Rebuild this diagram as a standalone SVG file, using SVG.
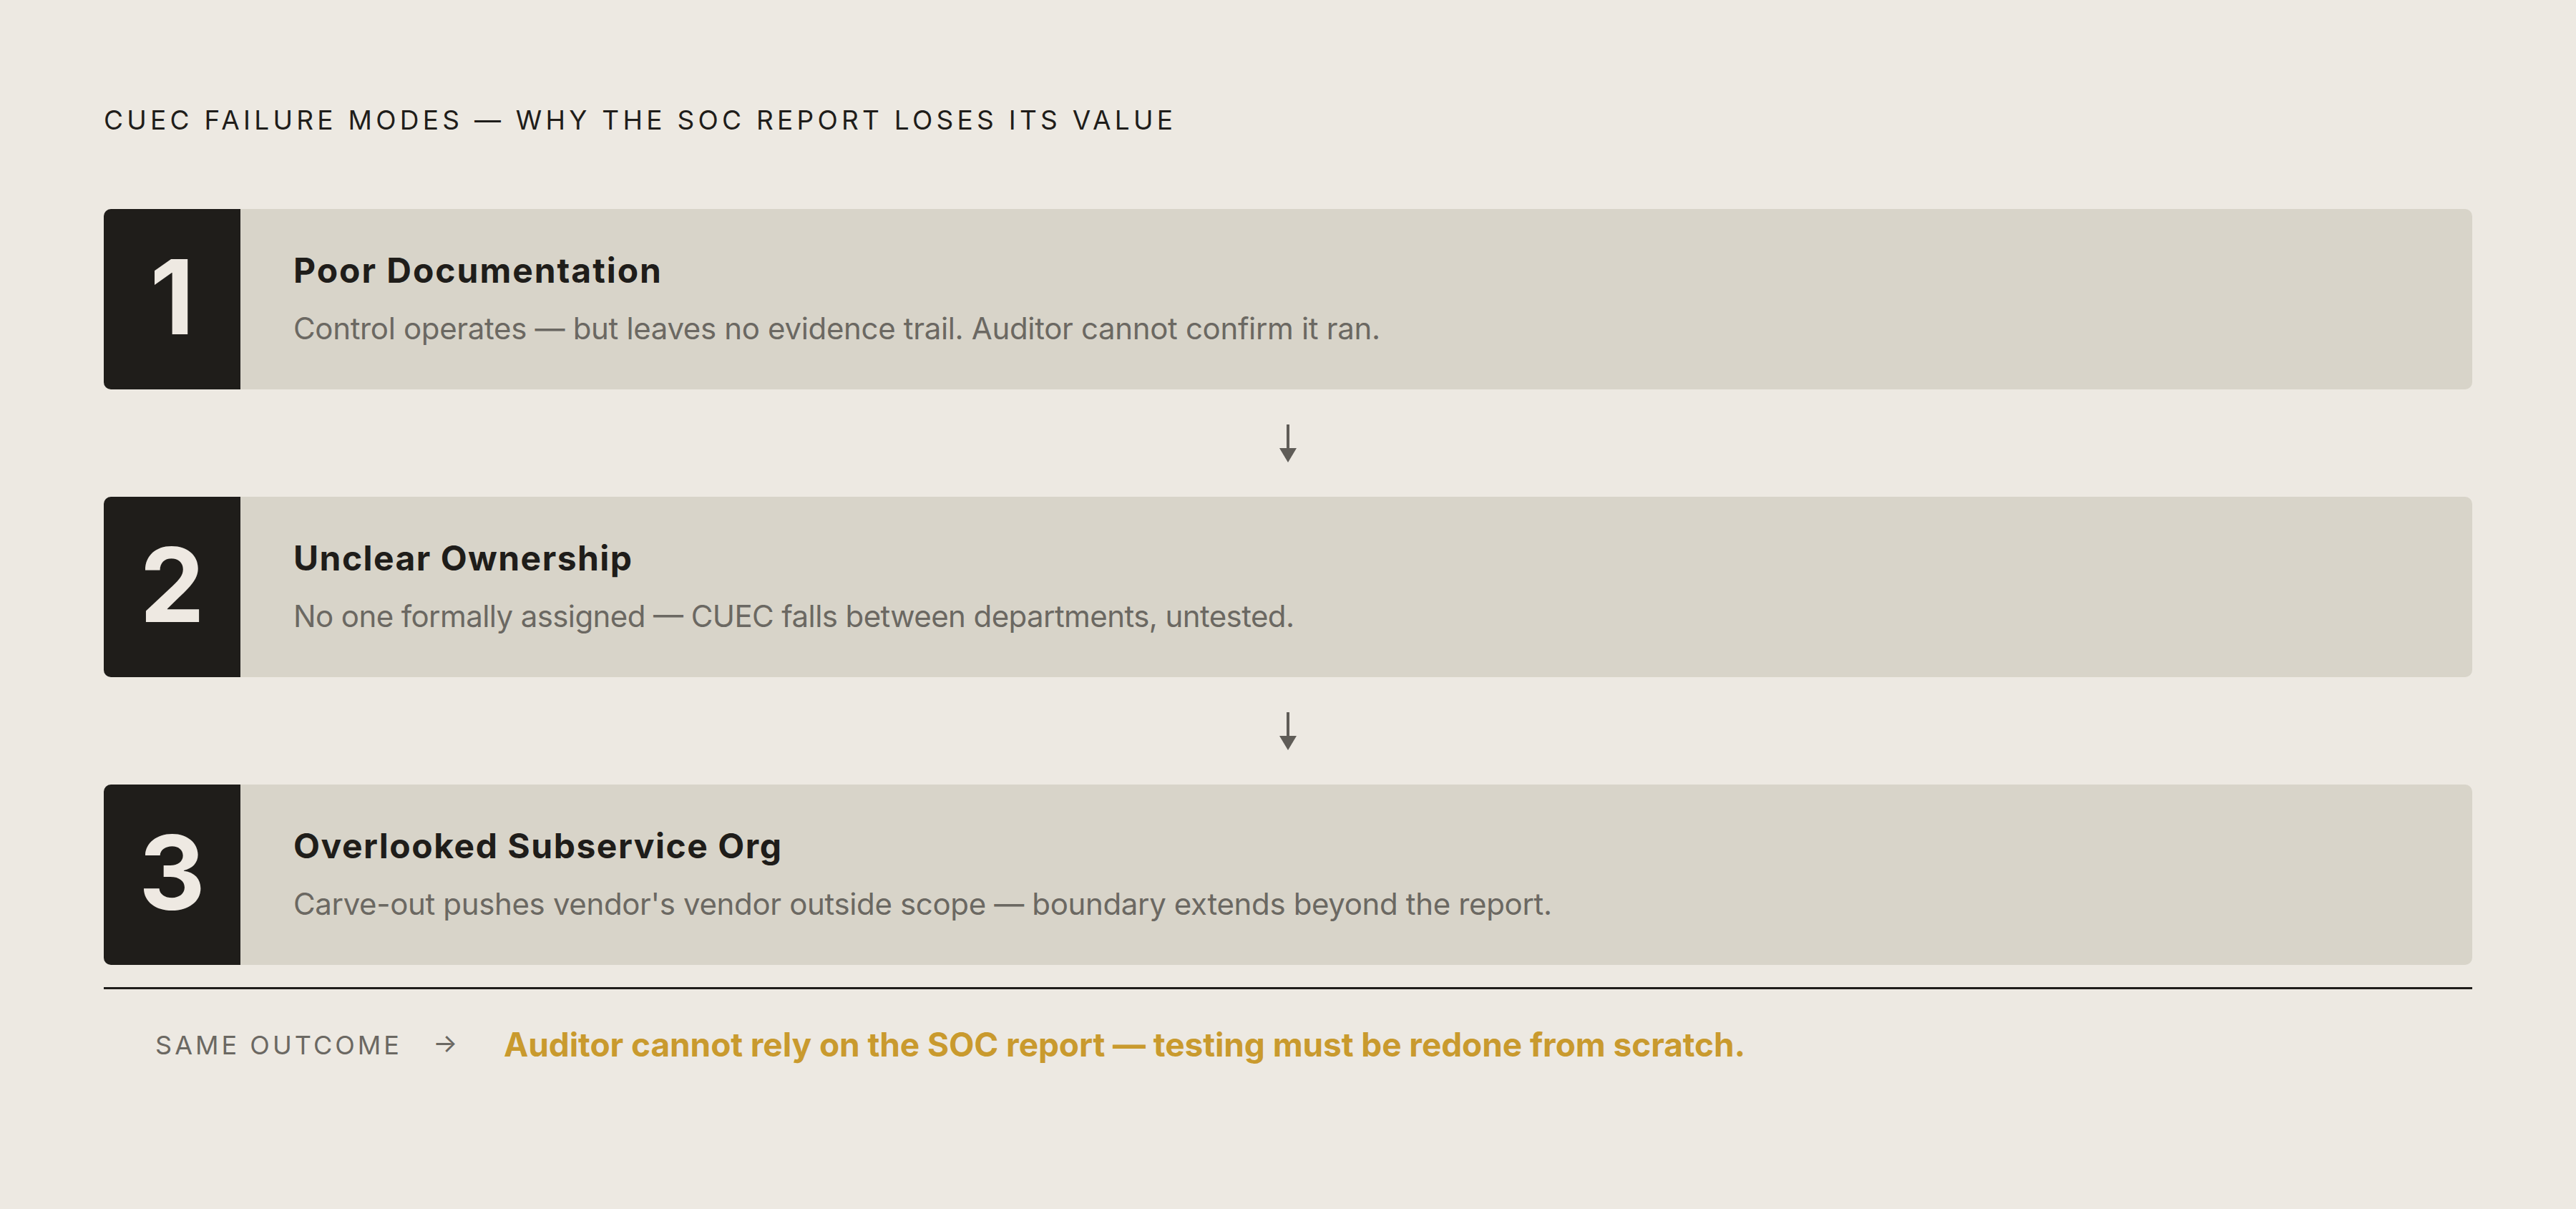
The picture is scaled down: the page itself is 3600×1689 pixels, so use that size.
<svg xmlns="http://www.w3.org/2000/svg" width="3600" height="1689" viewBox="0 0 3600 1689">
  <style>
    text { font-family: "Inter", "Liberation Sans", sans-serif; }
    .title { font-size: 37px; fill: #1f1d1a; font-weight: 400; }
    .card { fill: #d8d4c9; }
    .badge { fill: #1f1d1a; }
    .num { font-size: 144px; font-weight: 700; fill: #eee9e2; text-anchor: middle; }
    .head { font-size: 48px; font-weight: 700; fill: #1f1d1a; }
    .body { font-size: 42px; font-weight: 400; fill: #6b6862; }
    .label { font-size: 36px; font-weight: 400; fill: #6b6862; }
    .gold { font-size: 46px; font-weight: 700; fill: #c99a2e; }
    .conn { stroke: #5f5c57; stroke-width: 4; fill: none; }
  </style>
  <defs>
    <marker id="arrow" markerUnits="userSpaceOnUse" markerWidth="20" markerHeight="24" refX="0" refY="12" orient="auto" viewBox="0 0 20 24">
      <path d="M0,0 L20,12 L0,24 Z" fill="#5f5c57"/>
    </marker>
  </defs>
  <rect width="3600" height="1689" fill="#ede9e2"/>

  <text class="title" x="145" y="181" textLength="1500" lengthAdjust="spacing" letter-spacing="6">CUEC FAILURE MODES — WHY THE SOC REPORT LOSES ITS VALUE</text>

  <g id="node1">
    <rect class="card" x="145" y="292" width="3310" height="252" rx="10"/>
    <path class="badge" d="M155,292 H336 V544 H155 A10,10 0 0 1 145,534 V302 A10,10 0 0 1 155,292 Z"/>
    <text class="num" x="240.5" y="467">1</text>
    <text class="head" x="410" y="395" textLength="514" lengthAdjust="spacing">Poor Documentation</text>
    <text class="body" x="410" y="474" textLength="1519" lengthAdjust="spacing">Control operates — but leaves no evidence trail. Auditor cannot confirm it ran.</text>
  </g>

  <g id="node2">
    <rect class="card" x="145" y="694" width="3310" height="252" rx="10"/>
    <path class="badge" d="M155,694 H336 V946 H155 A10,10 0 0 1 145,936 V704 A10,10 0 0 1 155,694 Z"/>
    <text class="num" x="240.5" y="869">2</text>
    <text class="head" x="410" y="797" textLength="473" lengthAdjust="spacing">Unclear Ownership</text>
    <text class="body" x="410" y="876" textLength="1399" lengthAdjust="spacing">No one formally assigned — CUEC falls between departments, untested.</text>
  </g>

  <g id="node3">
    <rect class="card" x="145" y="1096" width="3310" height="252" rx="10"/>
    <path class="badge" d="M155,1096 H336 V1348 H155 A10,10 0 0 1 145,1338 V1106 A10,10 0 0 1 155,1096 Z"/>
    <text class="num" x="240.5" y="1271">3</text>
    <text class="head" x="410" y="1199" textLength="682" lengthAdjust="spacing">Overlooked Subservice Org</text>
    <text class="body" x="410" y="1278" textLength="1759" lengthAdjust="spacing">Carve-out pushes vendor's vendor outside scope — boundary extends beyond the report.</text>
  </g>

  <g id="connectors">
    <line class="conn" x1="1800" y1="593" x2="1800" y2="626" marker-end="url(#arrow)"/>
    <line class="conn" x1="1800" y1="995" x2="1800" y2="1028" marker-end="url(#arrow)"/>
  </g>

  <g id="outcome">
    <line x1="145" y1="1380.5" x2="3455" y2="1380.5" stroke="#1f1d1a" stroke-width="3"/>
    <text class="label" x="217" y="1473" textLength="346" lengthAdjust="spacing" letter-spacing="5">SAME OUTCOME</text>
    <text class="label" x="605" y="1470">→</text>
    <text class="gold" x="704" y="1476" textLength="1735" lengthAdjust="spacing">Auditor cannot rely on the SOC report — testing must be redone from scratch.</text>
  </g>
</svg>
